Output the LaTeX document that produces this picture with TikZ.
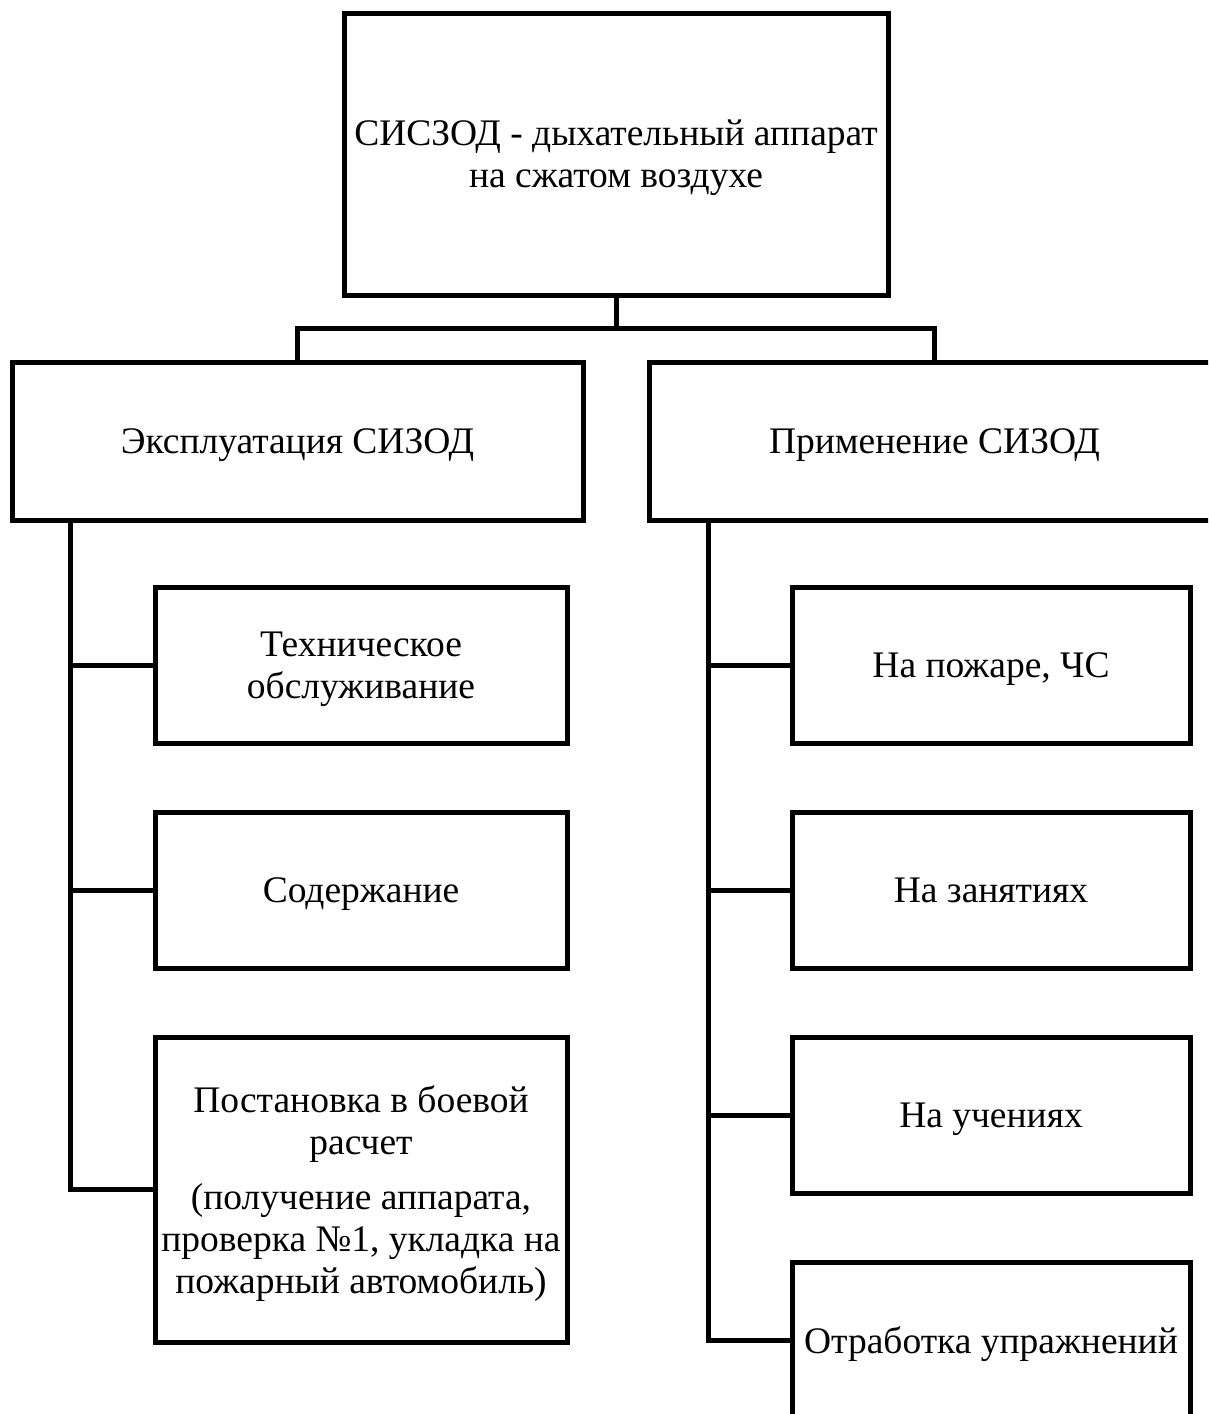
\documentclass[tikz,border=0pt]{standalone}
\usepackage{fontspec}
\setmainfont{Liberation Serif}
\usetikzlibrary{positioning}

\begin{document}
\begin{tikzpicture}[x=1pt, y=-1pt,
  node distance=69pt and 225pt,
  box/.style={draw, line width=5pt, outer sep=0pt, align=center, font=\fontsize{37.5}{42}\selectfont,
              text depth=0pt, minimum width=#1, minimum height=156pt},
  box/.default=412pt,
  link/.style={line width=5pt}]
\useasboundingbox (0,0) rectangle (1208,1414);
\clip (0,0) rectangle (1208,1414);
\node[box=544pt, minimum height=282pt] (root) at (616,154) {СИСЗОД - дыхательный аппарат\\на сжатом воздухе};
\node[box=571pt, minimum height=158pt] (expl) at (297.5,441) {Эксплуатация СИЗОД};
\node[box=571pt, minimum height=158pt, right=66pt of expl] (prim) {Применение СИЗОД};
\node[box] (tech) at (361,665) {Техническое\\обслуживание};
\node[box, below=of tech] (soder) {Содержание};
\node[box, below=of soder, minimum height=305pt] (post) {Постановка в боевой\\расчет\\[13pt](получение аппарата,\\проверка №1, укладка на\\пожарный автомобиль)};
\node[box=398pt, right=of tech] (pozhar) {На пожаре, ЧС};
\node[box=398pt, below=of pozhar] (zanyat) {На занятиях};
\node[box=398pt, below=of zanyat] (uchen) {На учениях};
\node[box=398pt, below=of uchen] (otrab) {Отработка упражнений};
\coordinate (split) at (616,328);
\coordinate (ltop) at (70,520);
\coordinate (rtop) at (708,520);
\draw[link] (root.south) -- (split);
\draw[link] (expl.north) |- (split) -| (prim.north);
\draw[link] (ltop) |- (post.west);
\draw[link] (tech.west) -- (tech.west -| ltop);
\draw[link] (soder.west) -- (soder.west -| ltop);
\draw[link] (rtop) |- (otrab.west);
\draw[link] (pozhar.west) -- (pozhar.west -| rtop);
\draw[link] (zanyat.west) -- (zanyat.west -| rtop);
\draw[link] (uchen.west) -- (uchen.west -| rtop);
\end{tikzpicture}
\end{document}
